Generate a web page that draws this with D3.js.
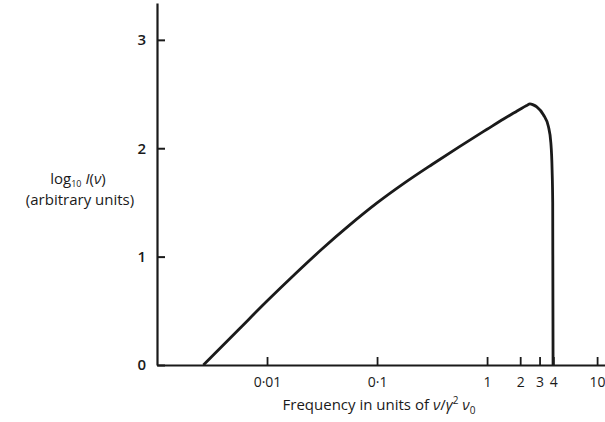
<!DOCTYPE html>
<html>
<head>
<meta charset="utf-8">
<script src="https://cdn.jsdelivr.net/npm/d3@7"></script>
<style>
  html, body { margin: 0; padding: 0; background: #fff; }
  svg { display: block; }
  text { font-family: "Open Sans", "DejaVu Sans", sans-serif; fill: #1a1a1a; }
</style>
</head>
<body>
<svg id="chart" width="605" height="422"></svg>
<script>
// Frequency in units of nu / (gamma^2 nu0)
const frequency = [0.00264, 0.00562, 0.01, 0.0178, 0.0316, 0.0562, 0.1, 0.178, 0.316, 0.562, 1.0, 1.413, 1.778, 2.089, 2.291, 2.455, 2.63, 2.83, 3.25, 3.61, 3.80, 3.90, 3.95, 3.98];
// log10 I(nu), arbitrary units
const logIntensity = [0.0, 0.335, 0.59, 0.835, 1.07, 1.29, 1.495, 1.68, 1.85, 2.015, 2.175, 2.27, 2.33, 2.372, 2.394, 2.41, 2.40, 2.382, 2.309, 2.20, 2.05, 1.80, 1.50, 0.0];
const xTickValues = [0.01, 0.1, 1, 2, 3, 4, 10];
const xTickLabels = ["0·01", "0·1", "1", "2", "3", "4", "10"];
const yTickValues = [0, 1, 2, 3];

const svg = d3.select("#chart");
const ink = "#1a1a1a";

const x = d3.scaleLog().domain([0.001, 11.8]).range([157, 605]);
const y = d3.scaleLinear().domain([0, 3.34]).range([365, 3]);

// Y axis
const yAxis = d3.axisLeft(y)
  .tickValues(yTickValues)
  .tickFormat(d3.format("d"))
  .tickSizeInner(-8)
  .tickSizeOuter(0)
  .tickPadding(11);
const gy = svg.append("g").attr("transform", `translate(${x(0.001)},0)`).call(yAxis);
gy.select(".domain").attr("stroke", ink).attr("stroke-width", 2.2);
gy.selectAll(".tick line").attr("stroke", ink).attr("stroke-width", 2);
gy.selectAll(".tick text").attr("font-size", 15).attr("font-weight", 600).style("fill", ink);

// X axis
const xAxis = d3.axisBottom(x)
  .tickValues(xTickValues)
  .tickFormat((d, i) => xTickLabels[i])
  .tickSizeInner(-8)
  .tickSizeOuter(0)
  .tickPadding(12);
const gx = svg.append("g").attr("transform", `translate(0,${y(0)})`).call(xAxis);
gx.select(".domain").attr("stroke", ink).attr("stroke-width", 2.2);
gx.selectAll(".tick line").attr("stroke", ink).attr("stroke-width", 1.8);
gx.selectAll(".tick text").attr("font-size", 14).style("fill", ink);

// Curve
const pts = frequency.map((f, i) => [f, logIntensity[i]]);
const line = d3.line()
  .x(d => x(d[0]))
  .y(d => y(d[1]))
  .curve(d3.curveMonotoneX);
svg.append("path")
  .datum(pts)
  .attr("d", line)
  .attr("fill", "none")
  .attr("stroke", ink)
  .attr("stroke-width", 2.8)
  .attr("stroke-linejoin", "round");

// X axis title
const xt = svg.append("text")
  .attr("x", 379).attr("y", 410)
  .attr("text-anchor", "middle")
  .attr("font-size", 15);
xt.append("tspan").text("Frequency in units of ");
xt.append("tspan").attr("font-style", "italic").text("ν");
xt.append("tspan").text("/");
xt.append("tspan").attr("font-style", "italic").text("γ");
xt.append("tspan").attr("font-size", 10).attr("dy", -6).text("2");
xt.append("tspan").attr("font-style", "italic").attr("dy", 6).text(" ν");
xt.append("tspan").attr("font-size", 10).attr("dy", 4).text("0");

// Y axis title
const yt1 = svg.append("text")
  .attr("x", 78).attr("y", 184)
  .attr("text-anchor", "middle")
  .attr("font-size", 15);
yt1.append("tspan").text("log");
yt1.append("tspan").attr("font-size", 9).attr("dy", 3).text("10");
yt1.append("tspan").attr("font-style", "italic").attr("dy", -3).text("  I");
yt1.append("tspan").text("(");
yt1.append("tspan").attr("font-style", "italic").text("ν");
yt1.append("tspan").text(")");

svg.append("text")
  .attr("x", 80).attr("y", 205)
  .attr("text-anchor", "middle")
  .attr("font-size", 15)
  .text("(arbitrary units)");
</script>
</body>
</html>
